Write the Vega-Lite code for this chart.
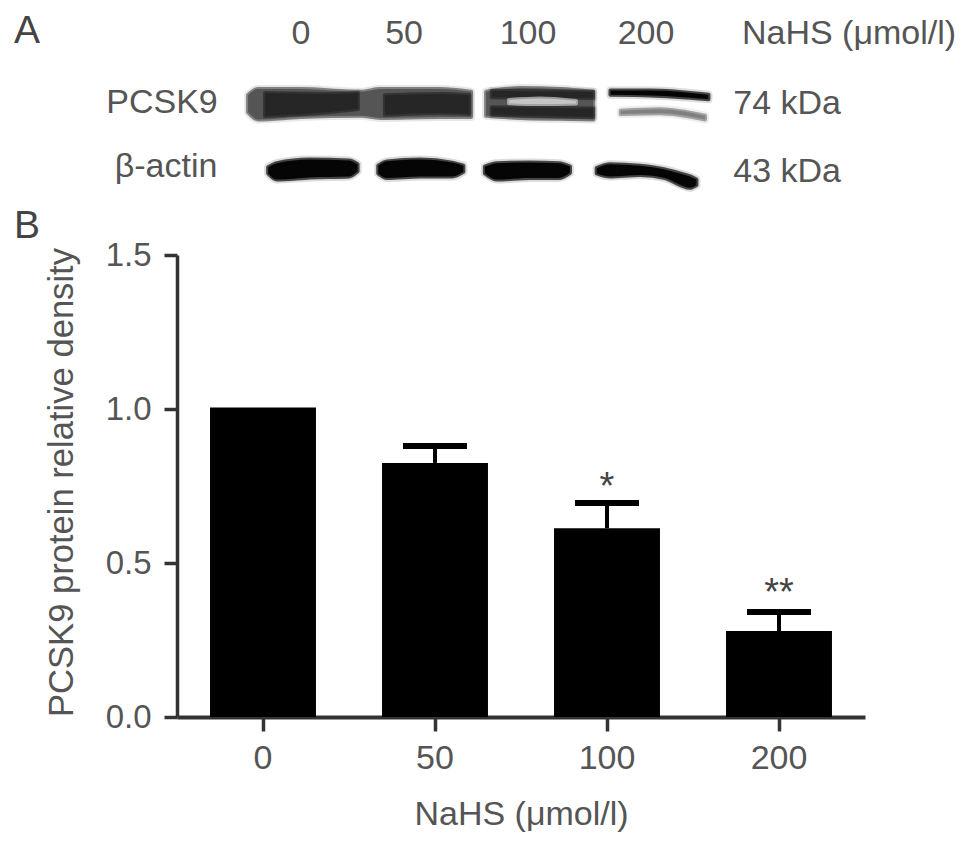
{
"$schema":"https://vega.github.io/schema/vega-lite/v6.json",
"width":688,"height":462,
"autosize":{"type":"none"},
"padding":{"left":177,"top":255,"right":104,"bottom":131},
"background":"white",
"config":{"view":{"stroke":null},"font":"Liberation Sans"},
"datasets":{
"bars":[
{"dose":"0","density":1.005,"upper":null,"sig":null,"sig_at":null},
{"dose":"50","density":0.825,"upper":0.88,"sig":null,"sig_at":null},
{"dose":"100","density":0.613,"upper":0.695,"sig":"*","sig_at":0.708},
{"dose":"200","density":0.279,"upper":0.341,"sig":"**","sig_at":0.364}
],
"panels":[
{"lane":-0.872,"level":2.188,"label":"A"},
{"lane":-0.872,"level":1.555,"label":"B"}
],
"labels":[
{"lane":0.721,"level":2.185,"label":"0"},
{"lane":1.32,"level":2.185,"label":"50"},
{"lane":2.041,"level":2.185,"label":"100"},
{"lane":2.727,"level":2.185,"label":"200"},
{"lane":3.907,"level":2.185,"label":"NaHS (μmol/l)"},
{"lane":-0.087,"level":1.961,"label":"PCSK9"},
{"lane":-0.064,"level":1.753,"label":"β-actin"},
{"lane":3.547,"level":1.958,"label":"74 kDa"},
{"lane":3.547,"level":1.737,"label":"43 kDa"}
],
"blot":[
{"band":"p01","tone":"mid","lane":0.413,"top":2.019,"bottom":1.964},
{"band":"p01","tone":"mid","lane":0.471,"top":2.039,"bottom":1.94},
{"band":"p01","tone":"mid","lane":0.715,"top":2.039,"bottom":1.948},
{"band":"p01","tone":"mid","lane":1.07,"top":2.03,"bottom":1.952},
{"band":"p01","tone":"mid","lane":1.18,"top":2.039,"bottom":1.945},
{"band":"p01","tone":"mid","lane":1.529,"top":2.039,"bottom":1.948},
{"band":"p01","tone":"mid","lane":1.71,"top":2.03,"bottom":1.948},
{"band":"p2","tone":"mid","lane":1.797,"top":2.03,"bottom":1.952},
{"band":"p2","tone":"mid","lane":1.994,"top":2.042,"bottom":1.945},
{"band":"p2","tone":"mid","lane":2.227,"top":2.039,"bottom":1.942},
{"band":"p2","tone":"mid","lane":2.42,"top":2.03,"bottom":1.94},
{"band":"c0","tone":"dark","lane":0.512,"top":2.026,"bottom":1.951},
{"band":"c0","tone":"dark","lane":0.89,"top":2.023,"bottom":1.964},
{"band":"c0","tone":"dark","lane":1.052,"top":2.026,"bottom":1.974},
{"band":"c1","tone":"dark","lane":1.209,"top":2.019,"bottom":1.955},
{"band":"c1","tone":"dark","lane":1.529,"top":2.023,"bottom":1.961},
{"band":"c1","tone":"dark","lane":1.7,"top":2.019,"bottom":1.958},
{"band":"c2a","tone":"dark","lane":1.83,"top":2.033,"bottom":2.012},
{"band":"c2a","tone":"dark","lane":2.42,"top":2.03,"bottom":2.01},
{"band":"c2b","tone":"dark","lane":1.83,"top":1.98,"bottom":1.955},
{"band":"c2b","tone":"dark","lane":2.42,"top":1.976,"bottom":1.948},
{"band":"gap","tone":"light","lane":1.93,"top":2.003,"bottom":1.993},
{"band":"gap","tone":"light","lane":2.11,"top":2.008,"bottom":1.99},
{"band":"gap","tone":"light","lane":2.32,"top":2.0,"bottom":1.992},
{"band":"l3b","tone":"soft","lane":2.58,"top":1.968,"bottom":1.958},
{"band":"l3b","tone":"soft","lane":2.808,"top":1.973,"bottom":1.96},
{"band":"l3b","tone":"soft","lane":3.07,"top":1.952,"bottom":1.94},
{"band":"l3a","tone":"black","lane":2.52,"top":2.034,"bottom":2.02},
{"band":"l3a","tone":"black","lane":2.75,"top":2.034,"bottom":2.018},
{"band":"l3a","tone":"black","lane":3.09,"top":2.02,"bottom":2.006},
{"band":"a0","tone":"black","lane":0.53,"top":1.785,"bottom":1.765},
{"band":"a0","tone":"black","lane":0.58,"top":1.798,"bottom":1.745},
{"band":"a0","tone":"black","lane":0.773,"top":1.81,"bottom":1.752},
{"band":"a0","tone":"black","lane":1.0,"top":1.807,"bottom":1.755},
{"band":"a0","tone":"black","lane":1.05,"top":1.795,"bottom":1.772},
{"band":"a1","tone":"black","lane":1.17,"top":1.79,"bottom":1.765},
{"band":"a1","tone":"black","lane":1.22,"top":1.804,"bottom":1.75},
{"band":"a1","tone":"black","lane":1.413,"top":1.81,"bottom":1.755},
{"band":"a1","tone":"black","lane":1.6,"top":1.8,"bottom":1.755},
{"band":"a1","tone":"black","lane":1.665,"top":1.79,"bottom":1.77},
{"band":"a2","tone":"black","lane":1.79,"top":1.787,"bottom":1.765},
{"band":"a2","tone":"black","lane":1.86,"top":1.798,"bottom":1.745},
{"band":"a2","tone":"black","lane":2.052,"top":1.8,"bottom":1.75},
{"band":"a2","tone":"black","lane":2.22,"top":1.798,"bottom":1.75},
{"band":"a2","tone":"black","lane":2.285,"top":1.787,"bottom":1.767},
{"band":"a3","tone":"black","lane":2.44,"top":1.782,"bottom":1.765},
{"band":"a3","tone":"black","lane":2.517,"top":1.795,"bottom":1.755},
{"band":"a3","tone":"black","lane":2.692,"top":1.79,"bottom":1.76},
{"band":"a3","tone":"black","lane":2.837,"top":1.778,"bottom":1.75},
{"band":"a3","tone":"black","lane":2.924,"top":1.765,"bottom":1.728},
{"band":"a3","tone":"black","lane":2.983,"top":1.755,"bottom":1.718},
{"band":"a3","tone":"black","lane":3.02,"top":1.745,"bottom":1.727}
]
},
"layer":[
{"layer":[
{"data":{"name":"bars"},
 "mark":{"type":"bar","color":"black"},
 "encoding":{
  "x":{"field":"dose","type":"ordinal","sort":null,
   "scale":{"paddingInner":0.384,"paddingOuter":0.192},
   "axis":{"title":"NaHS (μmol/l)","labelAngle":0,"labelFont":"Liberation Sans","titleFont":"Liberation Sans","labelFontSize":34,"titleFontSize":34,"labelFontWeight":"normal","titleFontWeight":"normal","labelColor":"#555","titleColor":"#555","domainColor":"#333","domainWidth":4,"tickColor":"#333","tickWidth":3.5,"tickSize":14,"labelPadding":10,"titlePadding":22}},
  "y":{"field":"density","type":"quantitative",
   "scale":{"domain":[0,1.5],"nice":false},
   "axis":{"title":"PCSK9 protein relative density","values":[0,0.5,1,1.5],"format":".1f","grid":false,"labelFont":"Liberation Sans","titleFont":"Liberation Sans","labelFontSize":33,"titleFontSize":34.6,"titleY":227,"labelFontWeight":"normal","titleFontWeight":"normal","labelColor":"#555","titleColor":"#555","domainColor":"#333","domainWidth":3.5,"tickColor":"#333","tickWidth":3.5,"tickSize":13,"labelPadding":13,"titlePadding":26}}
 }},
{"data":{"name":"bars"},
 "transform":[{"filter":"datum.upper != null"}],
 "mark":{"type":"rule","color":"black","strokeWidth":4},
 "encoding":{
  "x":{"field":"dose","type":"ordinal","sort":null},
  "y":{"field":"density","type":"quantitative"},
  "y2":{"field":"upper"}
 }},
{"data":{"name":"bars"},
 "transform":[{"filter":"datum.upper != null"}],
 "mark":{"type":"tick","color":"black","opacity":1,"size":64,"thickness":6,"orient":"horizontal"},
 "encoding":{
  "x":{"field":"dose","type":"ordinal","sort":null},
  "y":{"field":"upper","type":"quantitative"}
 }},
{"data":{"name":"bars"},
 "transform":[{"filter":"datum.sig != null"}],
 "mark":{"type":"text","font":"Liberation Sans","fontSize":38,"color":"#444","baseline":"alphabetic","align":"center"},
 "encoding":{
  "x":{"field":"dose","type":"ordinal","sort":null},
  "y":{"field":"sig_at","type":"quantitative"},
  "text":{"field":"sig"}
 }}
]},
{"layer":[
{"data":{"name":"blot"},
 "mark":{"type":"area","interpolate":"monotone","clip":false,"strokeWidth":8,"strokeOpacity":0.14,"fillOpacity":0,"strokeJoin":"round"},
 "encoding":{
  "x":{"field":"lane","type":"quantitative","scale":{"domain":[0,4],"nice":false,"zero":false},"axis":null},
  "y":{"field":"top","type":"quantitative","stack":false,"axis":null,"scale":{"domain":[0,1.5],"nice":false}},
  "y2":{"field":"bottom"},
  "detail":{"field":"band"},
  "stroke":{"field":"tone","type":"nominal","legend":null,"scale":{"domain":["mid","dark","light","soft","black"],"range":["#555555","#262626","#c5c5c5","#808080","#050505"]}}
 }},
{"data":{"name":"blot"},
 "mark":{"type":"area","interpolate":"monotone","clip":false,"strokeWidth":4,"strokeOpacity":0.7,"strokeJoin":"round"},
 "encoding":{
  "x":{"field":"lane","type":"quantitative","scale":{"domain":[0,4],"nice":false,"zero":false},"axis":null},
  "y":{"field":"top","type":"quantitative","stack":false,"axis":null,"scale":{"domain":[0,1.5],"nice":false}},
  "y2":{"field":"bottom"},
  "detail":{"field":"band"},
  "color":{"field":"tone","type":"nominal","legend":null,"scale":{"domain":["mid","dark","light","soft","black"],"range":["#555555","#262626","#c5c5c5","#808080","#050505"]}},
  "stroke":{"field":"tone","type":"nominal","legend":null,"scale":{"domain":["mid","dark","light","soft","black"],"range":["#555555","#262626","#c5c5c5","#808080","#050505"]}}
 }},
{"data":{"name":"labels"},
 "mark":{"type":"text","font":"Liberation Sans","fontSize":34,"color":"#555","baseline":"alphabetic","align":"center"},
 "encoding":{
  "x":{"field":"lane","type":"quantitative","scale":{"domain":[0,4],"nice":false,"zero":false},"axis":null},
  "y":{"field":"level","type":"quantitative","axis":null,"scale":{"domain":[0,1.5],"nice":false}},
  "text":{"field":"label"}
 }},
{"data":{"name":"panels"},
 "mark":{"type":"text","font":"Liberation Sans","fontSize":39,"color":"#444","baseline":"alphabetic","align":"center"},
 "encoding":{
  "x":{"field":"lane","type":"quantitative","scale":{"domain":[0,4],"nice":false,"zero":false},"axis":null},
  "y":{"field":"level","type":"quantitative","axis":null,"scale":{"domain":[0,1.5],"nice":false}},
  "text":{"field":"label"}
 }}
]}
],
"resolve":{"scale":{"x":"independent","color":"independent","stroke":"independent"},"axis":{"x":"independent","y":"independent"}}
}
